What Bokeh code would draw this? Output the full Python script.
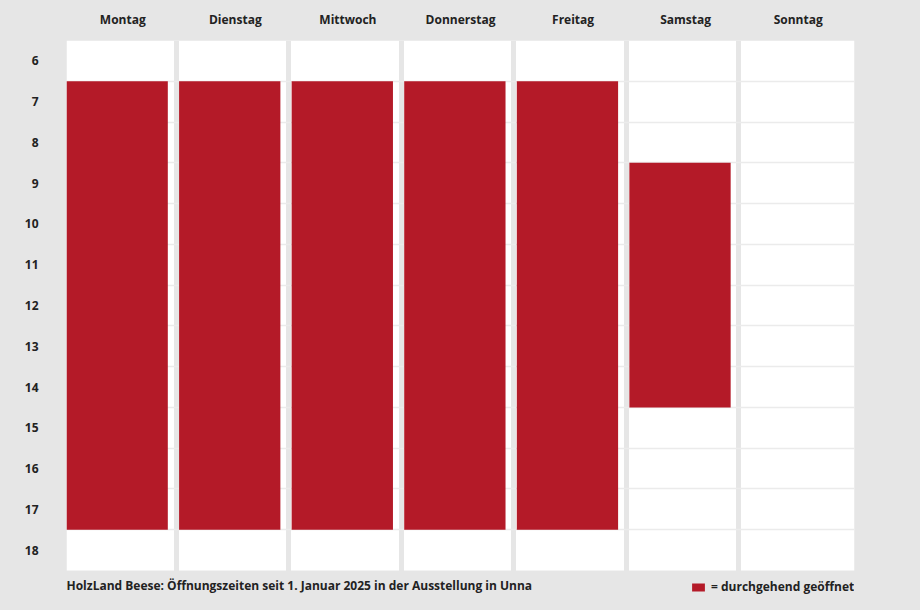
from bokeh.plotting import figure
from bokeh.models import (Range1d, FixedTicker, CustomJSTickFormatter, LinearAxis,
                          Legend, LegendItem, ColumnDataSource, Label)
from bokeh.transform import dodge
from bokeh.embed import file_html
from bokeh.resources import INLINE

days = ["Montag", "Dienstag", "Mittwoch", "Donnerstag", "Freitag", "Samstag", "Sonntag"]
open_from = [7, 7, 7, 7, 7, 9]
open_to = [18, 18, 18, 18, 18, 15]
hours = list(range(6, 19))
footer = "HolzLand Beese: Öffnungszeiten seit 1. Januar 2025 in der Ausstellung in Unna"
legend_label = "= durchgehend geöffnet"

RED = "#b41a28"
BG = "#e6e6e6"
FONT = "Open Sans"
TXT = "#222222"

W, H = 904, 594
TOP, LEFT, RIGHT = 40, 66, 50
GRID_H = 530          # pixel height of the hour grid
frame_h = H - TOP     # frame runs to the bottom; footer sits inside it
n_hours = len(hours)
y_bottom = hours[0] + n_hours * frame_h / GRID_H

src = ColumnDataSource(dict(
    x=[i + 0.5 for i in range(len(open_from))],
    top=open_from,
    bottom=open_to,
))

p = figure(width=W, height=H, output_backend="svg", toolbar_location=None,
           x_range=Range1d(0, len(days)), y_range=Range1d(y_bottom, hours[0]),
           x_axis_location=None, y_axis_location=None,
           min_border_left=LEFT, min_border_right=RIGHT, min_border_top=TOP, min_border_bottom=0)
p.background_fill_color = BG
p.border_fill_color = BG
p.outline_line_color = None

# white timetable area (below the grid lines)
p.quad(left=[0], right=[len(days)], top=[hours[0]], bottom=[hours[-1] + 1],
       fill_color="white", line_color=None, level="image")

r = p.vbar(x=dodge("x", -0.05, range=p.x_range), width=0.9, top="top", bottom="bottom",
           source=src, fill_color=RED, line_color=None)

xa = LinearAxis(ticker=FixedTicker(ticks=[i + 0.5 for i in range(len(days))]),
                formatter=CustomJSTickFormatter(args=dict(days=days),
                                                code="return days[Math.floor(tick)];"))
ya = LinearAxis(ticker=FixedTicker(ticks=[h + 0.5 for h in hours]),
                formatter=CustomJSTickFormatter(code="return String(Math.floor(tick));"))
for ax in (xa, ya):
    ax.axis_line_color = None
    ax.major_tick_line_color = None
    ax.minor_tick_line_color = None
    ax.major_label_text_font = FONT
    ax.major_label_text_font_style = "bold"
    ax.major_label_text_color = TXT
    ax.major_label_text_font_size = "12px"
xa.major_label_standoff = 7
ya.major_label_standoff = 22
ya.major_label_text_align = "center"
p.add_layout(xa, "above")
p.add_layout(ya, "left")

p.xgrid.ticker = FixedTicker(ticks=[i + 0.973 for i in range(len(days) - 1)])
p.xgrid.grid_line_color = BG
p.xgrid.grid_line_width = 5
p.ygrid.ticker = FixedTicker(ticks=hours[1:])
p.ygrid.grid_line_color = "#ebebeb"
p.ygrid.grid_line_width = 1.5

foot = Label(x=0, y=9, x_units="data", y_units="screen", text=footer,
             text_font=FONT, text_font_style="bold", text_font_size="12px",
             text_color=TXT, text_align="left", text_baseline="middle")
p.add_layout(foot)

legend = Legend(items=[LegendItem(label=legend_label, renderers=[r])],
                location=(624, -1), background_fill_alpha=0, border_line_color=None,
                label_text_font=FONT, label_text_font_style="bold",
                label_text_font_size="12px", label_text_color=TXT,
                glyph_width=16, glyph_height=10, padding=0, margin=0, label_standoff=5)
p.add_layout(legend, "center")

html = file_html(p, INLINE)
html = html.replace("<head>", "<head><style>body{background:%s;}</style>" % BG, 1)
open("out.html", "w").write(html)
